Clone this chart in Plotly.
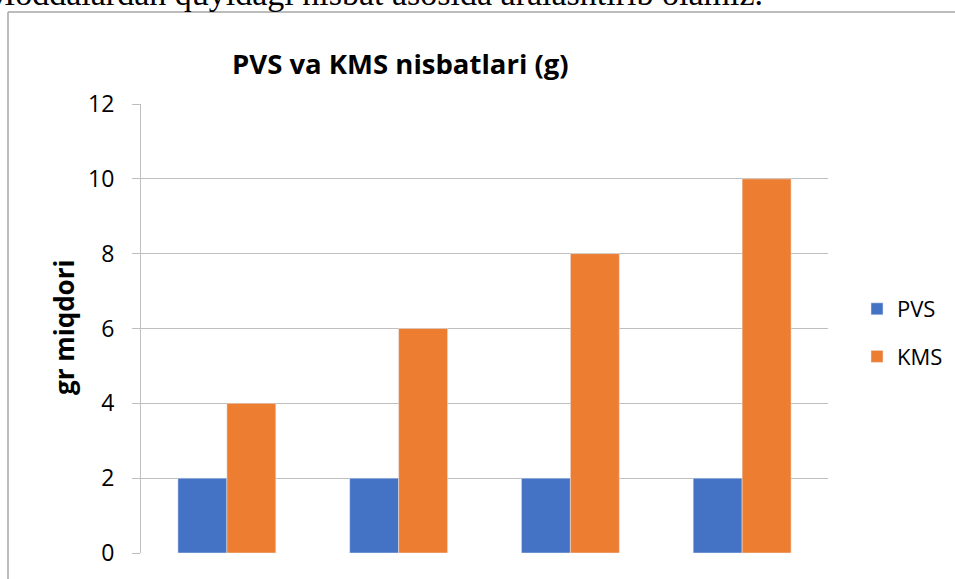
import plotly.graph_objects as go

categories = ["1", "2", "3", "4"]
pvs_values = [2, 2, 2, 2]
kms_values = [4, 6, 8, 10]
y_ticks = [0, 2, 4, 6, 8, 10, 12]

title_text = "PVS va KMS nisbatlari (g)"
y_title = "gr miqdori"
top_text = "Moddalardan quyidagi nisbat asosida aralashtirib olamiz."

W, H = 955, 579
L, R, T, B = 141, 127, 104, 26
pw, ph = W - L - R, H - T - B

def px_x(x):
    return (x - L) / pw

def px_y(y):
    return (H - B - y) / ph

font_main = "Open Sans, Calibri, sans-serif"

fig = go.Figure()
fig.add_trace(go.Bar(name="PVS", x=categories, y=pvs_values, marker_color="#4472C4",
                     legendgroup="a"))
fig.add_trace(go.Bar(name="KMS", x=categories, y=kms_values, marker_color="#ED7D31",
                     legendgroup="b"))

fig.update_layout(
    width=W, height=H,
    margin=dict(l=L, r=R, t=T, b=B, pad=0, autoexpand=False),
    paper_bgcolor="white", plot_bgcolor="white",
    barmode="group", bargap=0.43, bargroupgap=0,
    font=dict(family=font_main, size=22, color="#000000"),
    showlegend=True,
    legend=dict(x=px_x(857), y=px_y(288), xanchor="left", yanchor="top",
                font=dict(size=22, family=font_main), tracegroupgap=16,
                traceorder="grouped", bgcolor="rgba(0,0,0,0)"),
    xaxis=dict(showticklabels=False, showgrid=False, showline=False, ticks="",
               zeroline=False),
    yaxis=dict(range=[0, 12], tickvals=y_ticks, showgrid=True, gridcolor="#BFBFBF",
               gridwidth=1, showline=True, linecolor="#BFBFBF", linewidth=1,
               ticks="outside", ticklen=8, tickcolor="#BFBFBF", tickwidth=1,
               ticklabelstandoff=13,
               zeroline=False, automargin=False, tickfont=dict(size=23, family=font_main)),
    annotations=[
        dict(text="<b>" + title_text + "</b>", x=px_x(400), y=px_y(63),
             xref="paper", yref="paper", xanchor="center", yanchor="middle",
             showarrow=False, font=dict(size=27.5, family=font_main)),
        dict(text="<b>" + y_title + "</b>", x=px_x(64), y=px_y(328),
             xref="paper", yref="paper", xanchor="center", yanchor="middle",
             textangle=-90, showarrow=False, font=dict(size=26, family=font_main)),
        dict(text=top_text, x=px_x(-17), y=px_y(-6), xref="paper", yref="paper",
             xanchor="left", yanchor="middle", showarrow=False,
             font=dict(size=34, family="Liberation Serif, Times New Roman, serif")),
    ],
    shapes=[
        dict(type="line", xref="paper", yref="paper", x0=px_x(8), x1=px_x(8),
             y0=px_y(12), y1=px_y(600), line=dict(color="#A6A6A6", width=1.5)),
        dict(type="line", xref="paper", yref="paper", x0=px_x(8), x1=px_x(960),
             y0=px_y(12), y1=px_y(12), line=dict(color="#A6A6A6", width=1.5)),
    ],
)

fig.write_html("out.html", config={"displayModeBar": False},
               post_script="document.body.style.margin='0px';")
